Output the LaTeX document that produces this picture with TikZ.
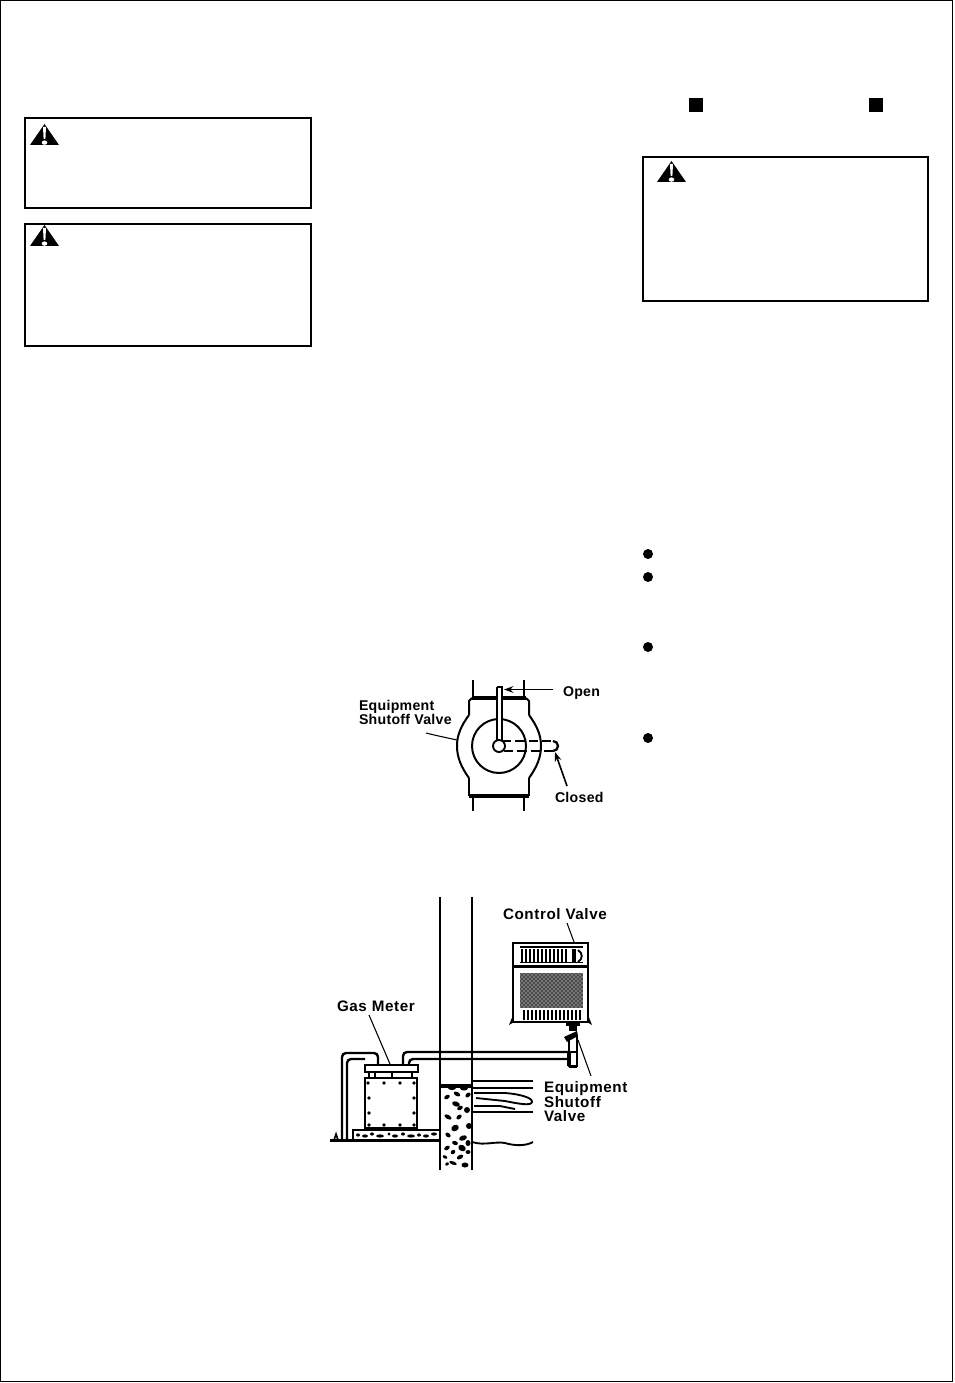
\documentclass[tikz,border=0pt]{standalone}
\usepackage{fontspec}
\setmainfont{Liberation Sans}
\usetikzlibrary{positioning,arrows.meta,patterns}

\tikzset{
  every node/.style={outer sep=0pt, inner sep=0pt},
  box/.style={rectangle, draw, line width=1.5pt, anchor=north west},
  label/.style={font=\fontsize{10.6}{10.6}\selectfont\bfseries\addfontfeature{LetterSpace=2}, align=left, anchor=base west},
  biglabel/.style={font=\fontsize{11.4}{10.9}\selectfont\bfseries\addfontfeature{LetterSpace=4}, align=left, anchor=base west},
  leader/.style={line width=0.8pt},
  pipe/.style={line width=1.8pt, rounded corners=3pt},
  wall/.style={line width=2pt},
  valveline/.style={line width=1.5pt},
  tip/.style={-{Stealth[length=7pt,width=5pt]}, line width=1.2pt},
}
\newcommand{\warnsign}[2]{
  \fill (#1+14.5,#2) -- (#1+29,#2+21) -- (#1,#2+21) -- cycle;
  \fill[white] (#1+13,#2+3) -- (#1+16,#2+3) -- (#1+15.4,#2+15) -- (#1+13.6,#2+15) -- cycle;
  \fill[white] (#1+14.5,#2+18.6) ellipse (2.8 and 2.2);
}

\begin{document}
\begin{tikzpicture}[x=0.75pt,y=-0.75pt]
\useasboundingbox (0,0) rectangle (954,1383);
\node (page) [rectangle, draw, line width=1.2pt, minimum width=952*0.75pt, minimum height=1381*0.75pt, anchor=north west] at (0.5,0.5) {};

% warning boxes
\node (warnA) [box, minimum width=286*0.75pt, minimum height=90*0.75pt] at (25,118) {};
\node (warnB) [box, minimum width=286*0.75pt, minimum height=122*0.75pt] at (25,224) {};
\node (warnC) [box, minimum width=285*0.75pt, minimum height=144*0.75pt] at (643,157) {};
\warnsign{30}{124}
\warnsign{30}{225}
\warnsign{657}{161}

% squares and bullets
\fill (689,98) rectangle (703,112);
\fill (869,98) rectangle (883,112);
\foreach \y in {554,577,647,738}
  \fill (648,\y) circle (5);

% shutoff valve
\draw[wall] (473,680) -- (473,698);
\draw[wall] (524,680) -- (524,698);
\draw[wall] (473,796) -- (473,811);
\draw[wall] (524,796) -- (524,811);
\draw[valveline] (469,715) -- (469,701) -- (472,698);
\draw[valveline] (529,715) -- (529,701) -- (526,698);
\draw[line width=2.4pt] (472,698) -- (526,698);
\draw[valveline] (469,715) .. controls (461,726) and (457,735) .. (457,746) .. controls (457,757) and (461,767) .. (469,778);
\draw[valveline] (529,715) .. controls (537,726) and (541,735) .. (541,746) .. controls (541,757) and (537,767) .. (529,778);
\draw[valveline] (469,778) -- (469,796);
\draw[valveline] (529,778) -- (529,796);
\draw[line width=2.4pt] (469,796) -- (529,796);
\draw[valveline] (499,746) circle (27);

% handle, open and closed
\fill[white] (497,687) rectangle (502,741);
\draw[line width=0.9pt] (497,741) -- (497,687);
\draw[line width=2pt] (497,687) -- (502,687) -- (502,741);
\draw[line width=2.2pt, dash pattern=on 7pt off 3pt] (502,741) -- (553,741);
\draw[line width=1pt, dash pattern=on 7pt off 3pt] (504,751) -- (553,751);
\draw[line width=1.7pt] (553,741) arc (-90:90:5);
\node (hub) [circle, draw, fill=white, line width=1.4pt, minimum size=9pt] at (499,746) {};

\node (open) [label] at (563,696) {Open};
\node (closed) [label] at (555,802) {Closed};
\node (shutoff) [label, anchor=west] at (359,712.5) {Equipment\\Shutoff Valve};
\coordinate (openTip) at (504,689.5);
\coordinate (closedTip) at (555,752);
\coordinate (bodyL) at (457,740);
\draw[tip] (553,689.5) -- (openTip);
\draw[tip] (567,786) -- (closedTip);
\draw[leader] (426,733) .. controls (438,736) and (448,738) .. (bodyL);

% wall and floor
\draw[wall] (440,897) -- (440,1170);
\draw[wall] (472,897) -- (472,1170);
\draw[line width=3pt] (440,1085.5) -- (472,1085.5);
\foreach \x/\y/\a/\b/\r in {452/1088/4/2/0,464/1088/4/2.5/0,447/1097/3/2/30,457/1094/3.5/2/-30,468/1095/3/2/40,456/1104/4/2.5/-20,467/1110/3/3/0,460/1108/3/2/30,448/1117/4/2/-30,459/1117/3/2/40,469/1126/3/3/0,455/1128/4/3/30,448/1135/3/2/-40,463/1138/4/2.5/20,455/1143/3/2/-20,468/1143/2.5/3/0,447/1148/3/2/30,462/1148/4/3/-30,453/1152/2.5/2/40,468/1152/2.5/2/0,445/1157/2.5/1.5/-30,460/1157/3.5/2/30,453/1163/4/1.6/-20,465/1165/3.5/2.5/0,447/1164/2/1.5/30}
  \fill[rotate around={\r:(\x,\y)}] (\x,\y) ellipse (\a pt*0.75 and \b pt*0.75);
\draw[wall] (472,1081) -- (533,1081);
\draw[wall] (472,1088) -- (533,1088);
\draw[line width=1.4pt] (474,1093) -- (505,1093) .. controls (520,1094) and (533,1098) .. (532,1102) .. controls (531,1106) and (520,1104) .. (505,1101) -- (476,1098);
\draw[line width=1.4pt] (474,1106) -- (500,1106) -- (515,1109);
\draw[wall] (472,1112) -- (533,1112);
\draw[line width=1.4pt] (472,1142) .. controls (485,1146) and (495,1141) .. (505,1143) .. controls (515,1146) and (526,1146) .. (533,1142);

% ground and pad
\draw[wall] (330,1140.5) -- (440,1140.5);
\draw[line width=1.2pt] (334,1140) -- (336,1134) -- (338,1140);
\draw[line width=1.8pt] (353,1140) -- (353,1130) -- (440,1130);
\foreach \x/\y/\a in {358/1135/2,365/1136/3,372/1134/2,380/1136/4,389/1134/1.5,395/1136/3,403/1134/2,411/1136/4,419/1135/2,426/1136/3,434/1134/3}
  \fill (\x,\y) ellipse (\a pt*0.75 and 1.2pt);

% gas meter
\node (meter) [rectangle, draw, line width=1.3pt, minimum width=52*0.75pt, minimum height=50*0.75pt, anchor=north west] at (365,1078) {};
\node (cap) [rectangle, draw, line width=2pt, minimum width=53*0.75pt, minimum height=7*0.75pt, anchor=north west] at (365,1065) {};
\foreach \x in {369,375,392,412}
  \draw[line width=1.3pt] (\x,1072) -- (\x,1078);
\foreach \x/\y in {368/1083,384/1083,400/1083,414/1083,369/1098,414/1098,369/1113,414/1113,384/1125,400/1125,369/1125,414/1125}
  \fill (\x,\y) circle (1.8);

% gas pipes
\draw[pipe] (342,1140) -- (342,1053) -- (378,1053) -- (378,1065);
\draw[pipe] (347,1140) -- (347,1059) -- (365,1059);
\draw[pipe] (403,1065) -- (403,1052) -- (568,1052);
\draw[pipe] (409,1065) -- (409,1059) -- (568,1059);

% heater
\node (heater) [rectangle, draw, line width=2pt, minimum width=75*0.75pt, minimum height=79*0.75pt, anchor=north west] at (513,943) {};
\draw[line width=1pt] (520,947) -- (583,947);
\foreach \x in {522,526,...,566}
  \draw[line width=1.6pt] (\x,949) -- (\x,962);
\draw[line width=3pt] (574,949) -- (574,962);
\draw[line width=1.4pt] (578,950) .. controls (583,953) and (583,959) .. (578,962);
\draw[line width=1pt] (520,962.5) -- (583,962.5);
\draw[line width=2.4pt] (514,966.5) -- (587,966.5);
\node (mesh) [rectangle, fill=black!70, minimum width=63*0.75pt, minimum height=35*0.75pt, anchor=north west] at (520,973) {};
\fill[pattern=crosshatch dots, pattern color=white] (520,973) rectangle (583,1008);
\foreach \x in {524,528,...,582}
  \draw[line width=1.6pt] (\x,1010) -- (\x,1020);
\fill (514,1022) -- (509,1025) -- (513,1015) -- cycle;
\fill (587,1022) -- (592,1025) -- (588,1015) -- cycle;

% control and shutoff fittings
\fill (566,1022) rectangle (580,1026);
\fill (569,1026) rectangle (577,1031);
\fill (564,1037) -- (577,1031) -- (578,1036) -- (567,1042) -- cycle;
\draw[line width=1.4pt] (569,1040) -- (569,1052);
\draw[line width=1.4pt] (577,1036) -- (577,1052);
\node (shutoffBody) [rectangle, draw, line width=1.4pt, minimum width=8*0.75pt, minimum height=14*0.75pt, anchor=north west] at (569,1052) {};
\draw[line width=2.6pt] (569,1052) -- (569,1066);
\draw[line width=2.2pt] (569,1067) -- (577,1067);

\node (control) [biglabel] at (503,919) {Control Valve};
\node (gasmeter) [biglabel] at (337,1011) {Gas Meter};
\node (equip) [biglabel] at (544,1092) {Equipment};
\node (equipB) [biglabel] at (544,1107) {Shutoff};
\node (equipC) [biglabel] at (544,1121) {Valve};
\coordinate (heaterTop) at (574,942);
\coordinate (meterTop) at (390,1064);
\coordinate (fitting) at (578,1040);
\draw[leader] (567,923) -- (heaterTop);
\draw[leader] (369,1015) -- (meterTop);
\draw[leader] (591,1076) -- (fitting);
\end{tikzpicture}
\end{document}
